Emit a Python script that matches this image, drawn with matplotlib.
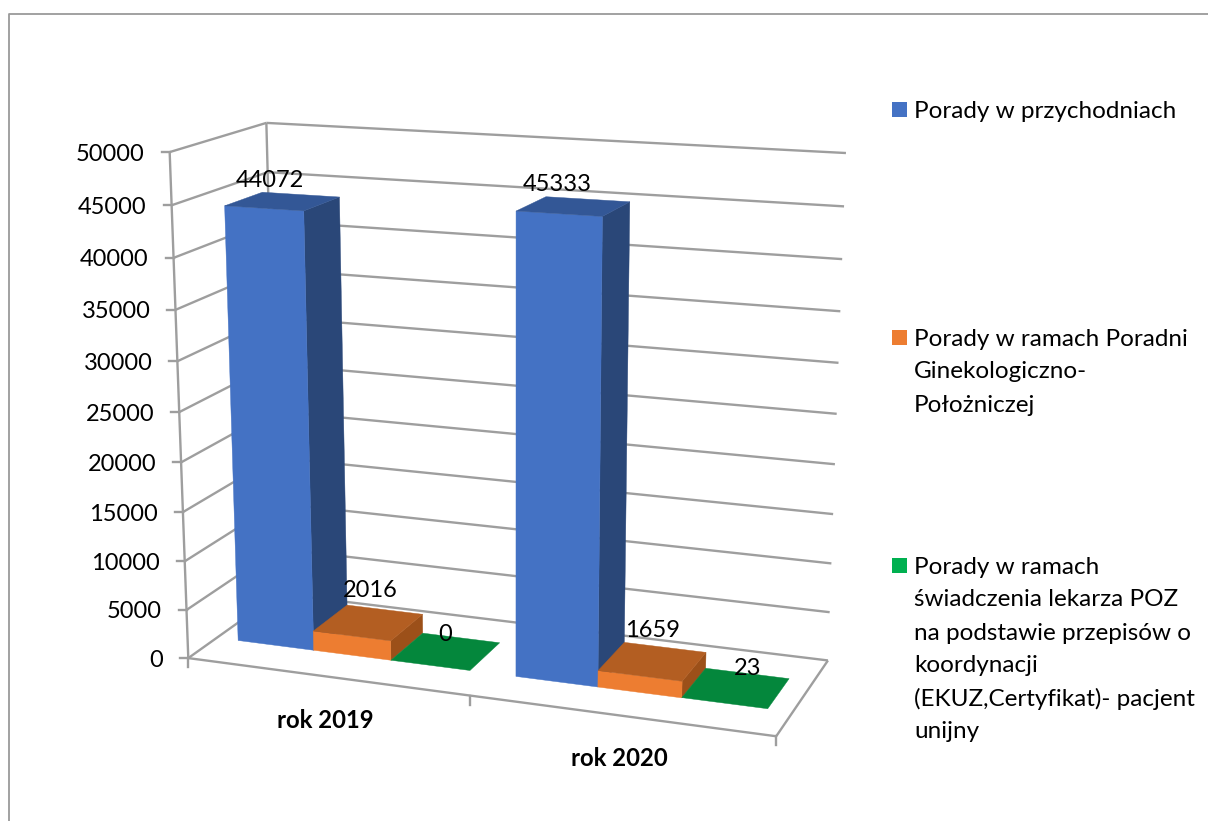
import numpy as np
import matplotlib
matplotlib.use('Agg')
import matplotlib.pyplot as plt

plt.rcParams['font.family'] = ['Lato', 'DejaVu Sans']

# data
categories = ['rok 2019', 'rok 2020']
series_names = ['Porady w przychodniach',
                'Porady w ramach Poradni\nGinekologiczno-\nPołożniczej',
                'Porady w ramach\nświadczenia lekarza POZ\nna podstawie przepisów o\nkoordynacji\n(EKUZ,Certyfikat)- pacjent\nunijny']
porady_przychodnie = [44072, 45333]
porady_ginekologia = [2016, 1659]
porady_poz = [0, 23]
y_ticks = [0, 5000, 10000, 15000, 20000, 25000, 30000, 35000, 40000, 45000, 50000]
y_max = 50000

# colours: front, top, side
front_colors = ['#4472C4', '#ED7D31', '#00B050']
top_colors = ['#335796', '#B35E22', '#04873C']
side_colors = ['#2A4778', '#9C5019', '#04873C']
grid_color = '#9E9E9E'
border_color = '#9A9A9A'

# camera: box corners (u, v, w) -> pixel, fitted to a projective matrix
box_pts = [(0, 0, 0), (0, 0, 1), (0, 1, 0), (0, 1, 1),
           (1, 1, 1), (1, 1, 0), (1, 0, 0), (0.5, 0, 0)]
pix_pts = [(188, 657), (170, 152), (279, 594), (266, 123),
           (846, 153), (828, 660), (776, 736), (470, 697)]

rows = []
for (u, v, w), (px, py) in zip(box_pts, pix_pts):
    rows.append([u, v, w, 1, 0, 0, 0, 0, -px*u, -px*v, -px*w, -px])
    rows.append([0, 0, 0, 0, u, v, w, 1, -py*u, -py*v, -py*w, -py])
cam = np.linalg.svd(np.array(rows, float))[2][-1].reshape(3, 4)


def proj(u, v, w):
    p = cam @ np.array([u, v, w, 1.0])
    return p[0]/p[2], p[1]/p[2]


def quad(ax, pts, color, zorder=3):
    xy = np.array([proj(*p) for p in pts])
    ax.fill(xy[:, 0], xy[:, 1], color=color, lw=0.3, zorder=zorder)


def seg(ax, a, b, lw=1.7, color=grid_color):
    pa, pb = proj(*a), proj(*b)
    ax.plot([pa[0], pb[0]], [pa[1], pb[1]], color=color, lw=lw,
            solid_capstyle='butt', zorder=2)


fig = plt.figure(figsize=(12.08, 8.21), dpi=100)
ax = fig.add_axes([0, 0, 1, 1])
ax.set_xlim(0, 1208)
ax.set_ylim(821, 0)
ax.axis('off')

# chart frame, cut by the image edge
ax.plot([9, 9, 1208], [821, 14, 14], color=border_color, lw=1.3, zorder=1)

# walls
for t in y_ticks:
    w = t / y_max
    seg(ax, (0, 0, w), (0, 1, w))
    seg(ax, (0, 1, w), (1, 1, w))
    x, y = proj(0, 0, w)
    ax.plot([x-8, x], [y, y], color=grid_color, lw=1.7, zorder=2)
    ax.text(x-25, y+2, str(t), ha='right', va='center', fontsize=17, color='black')
seg(ax, (0, 0, 0), (0, 0, 1))
seg(ax, (0, 1, 0), (0, 1, 1))
seg(ax, (0, 0, 0), (1, 0, 0))
seg(ax, (1, 0, 0), (1, 1, 0))
for u in [0, 0.5, 1]:
    x, y = proj(u, 0, 0)
    ax.plot([x, x], [y, y+9], color=grid_color, lw=1.7, zorder=2)

# bars
cat_w = 1 / len(categories)
margin = 0.04
bar_w = (cat_w - 2*margin) / 3
v0, v1 = 0.30, 0.70
all_series = [porady_przychodnie, porady_ginekologia, porady_poz]
label_offset = [[(-13, -21), (-16, -22)], [(2, -32), (0, -31)], [(-1, -17), (12, -20)]]
z = 3
for c in range(len(categories)):
    for s, vals in enumerate(all_series):
        u0 = c*cat_w + margin + s*bar_w
        u1 = u0 + bar_w
        h = vals[c] / y_max
        if h > 0.002:
            quad(ax, [(u1, v0, 0), (u1, v1, 0), (u1, v1, h), (u1, v0, h)], side_colors[s], z)
            quad(ax, [(u0, v0, 0), (u1, v0, 0), (u1, v0, h), (u0, v0, h)], front_colors[s], z+1)
        quad(ax, [(u0, v0, h), (u1, v0, h), (u1, v1, h), (u0, v1, h)], top_colors[s], z+1)
        z += 2
        x, y = proj((u0+u1)/2, (v0+v1)/2, h)
        dx, dy = label_offset[s][c]
        ax.text(x+dx, y+dy, str(vals[c]), ha='center', va='center', fontsize=17,
                color='black', zorder=50)

# category labels
cat_xy = [(325, 720), (619, 759)]
for name, (x, y) in zip(categories, cat_xy):
    ax.text(x, y, name, ha='center', va='center', fontsize=17.2, fontweight='bold', color='black')

# legend
legend_top = [102, 330, 558]
for name, col, top in zip(series_names, front_colors, legend_top):
    ax.fill([892, 907, 907, 892], [top, top, top+15, top+15], color=col, lw=0)
    for i, line in enumerate(name.split('\n')):
        ax.text(914, top+9+i*33, line, ha='left', va='center', fontsize=17.5, color='black')

fig.savefig('out.png', dpi=100)
